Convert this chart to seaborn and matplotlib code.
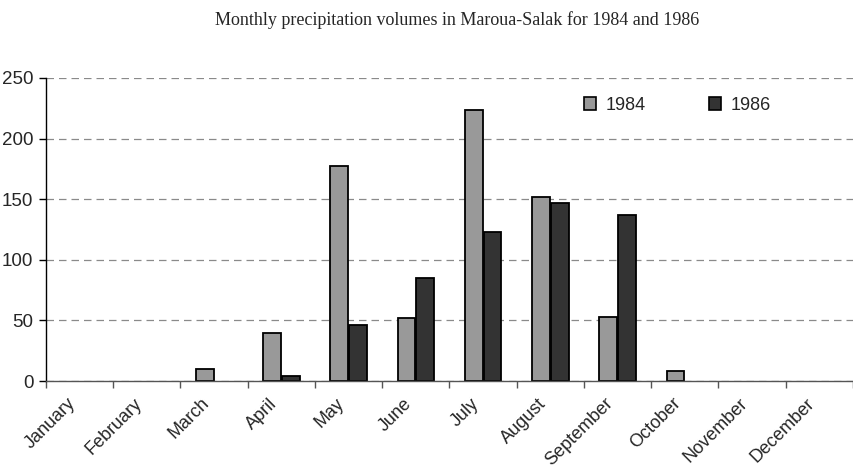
import matplotlib
matplotlib.use("Agg")
import matplotlib.pyplot as plt
import matplotlib.transforms as mtransforms
from matplotlib.patches import Patch
import seaborn as sns
import pandas as pd
import numpy as np

months = ["January", "February", "March", "April", "May", "June", "July",
          "August", "September", "October", "November", "December"]
years = ["1984", "1986"]
precip_1984 = [0, 0, 10, 40, 177, 52, 224, 152, 53, 8.5, 0, 0]
precip_1986 = [0, 0, 0, 4, 46, 85, 123, 147, 137, 0, 0, 0]
yticks = [0, 50, 100, 150, 200, 250]
title = "Monthly precipitation volumes in Maroua-Salak for 1984 and 1986"
colors = {"1984": "#999999", "1986": "#333333"}

df = pd.DataFrame({
    "month": months * 2,
    "year": [years[0]] * 12 + [years[1]] * 12,
    "value": precip_1984 + precip_1986,
})

sns.set_style("white")
plt.rcParams["font.family"] = ["Liberation Sans", "DejaVu Sans"]

fig = plt.figure(figsize=(8.54, 4.72), dpi=100)
ax = fig.add_axes([46 / 854, 1 - 381 / 472, 807 / 854, 303 / 472])

sns.barplot(data=df, x="month", y="value", hue="year", order=months,
            hue_order=years, palette=colors, width=0.56, gap=0.06,
            edgecolor="black", linewidth=1.3, ax=ax, legend=False)
# zero-valued bars are not drawn in the reference
for p in ax.patches:
    if p.get_height() == 0:
        p.set_visible(False)

ax.set_xlim(-0.5, 11.5)
ax.set_ylim(0, 250)
ax.set_yticks(yticks)
ax.set_yticklabels([str(v) for v in yticks], fontsize=13.5)
ax.set_xlabel("")
ax.set_ylabel("")

ax.yaxis.grid(True, linestyle=(0, (6, 4)), color="#8a8a8a", linewidth=0.9)
ax.set_axisbelow(True)
for s in ["top", "right"]:
    ax.spines[s].set_visible(False)
ax.spines["left"].set_color("black")
ax.spines["left"].set_linewidth(1.0)
ax.spines["bottom"].set_color("#555555")
ax.spines["bottom"].set_linewidth(1.0)

ax.tick_params(axis="y", which="major", direction="out", length=5, width=1,
               color="black", left=True, pad=4)
ax.set_xticks(range(12))
ax.set_xticklabels(months, fontsize=13, rotation=45, ha="right",
                   rotation_mode="anchor")
ax.tick_params(axis="x", which="major", length=0, pad=10, bottom=True)
ax.set_xticks(np.arange(-0.5, 12.0, 1.0), minor=True)
ax.tick_params(axis="x", which="minor", direction="out", length=5, width=1,
               color="#555555", bottom=True)
offset = mtransforms.ScaledTranslation(-13 / 100, 0, fig.dpi_scale_trans)
for lab in ax.get_xticklabels():
    lab.set_transform(lab.get_transform() + offset)

handles = [Patch(facecolor=colors[y], edgecolor="black", linewidth=1.2, label=y)
           for y in years]
ax.legend(handles=handles, ncol=2, frameon=False, fontsize=13,
          handlelength=0.7, handleheight=0.7, handletextpad=0.5,
          columnspacing=3.5, loc="center", bbox_to_anchor=(677 / 854, 1 - 105 / 472),
          bbox_transform=fig.transFigure)

fig.text(457 / 854, 1 - 20 / 472, title, ha="center", va="center",
         fontsize=13, family=["Liberation Serif", "DejaVu Serif"])

fig.savefig("out.png", dpi=100)
